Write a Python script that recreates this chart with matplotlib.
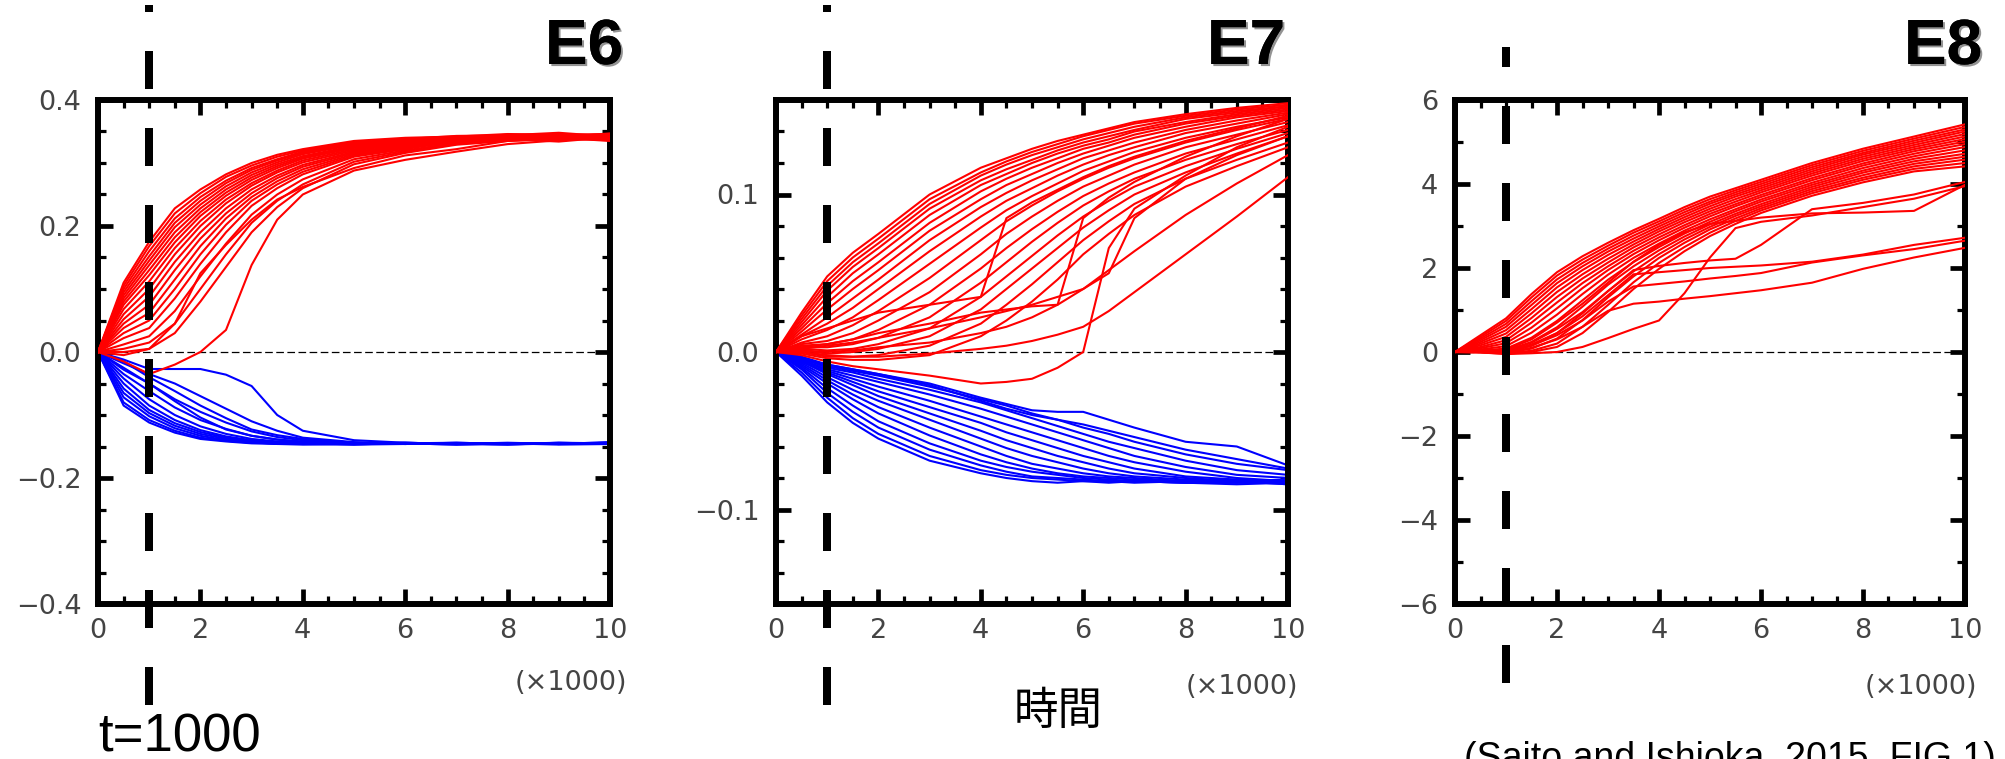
import matplotlib
matplotlib.use('Agg')
import matplotlib.pyplot as plt
from matplotlib.ticker import MultipleLocator
from matplotlib.transforms import blended_transform_factory
import matplotlib.patheffects as pe

plt.rcParams['lines.scale_dashes'] = False

# ---------------- data (x in units of 1000 steps) ----------------
panel_titles = ['E6', 'E7', 'E8']
x_ticks = [0, 2, 4, 6, 8, 10]
x_ticklabels = ['0', '2', '4', '6', '8', '10']
t_mark = 1.0  # t = 1000

# E6
e6_x = [0, 0.5, 1, 1.5, 2, 2.5, 3, 3.5, 4, 5, 6, 7, 8, 9, 10]
e6_red = [
    [0, .110, .175, .228, .258, .282, .300, .313, .322, .335, .340, .342, .346, .345, .346],
    [0, .105, .168, .220, .252, .278, .296, .310, .320, .333, .338, .343, .344, .348, .342],
    [0, .100, .160, .212, .246, .272, .292, .306, .318, .331, .337, .340, .345, .343, .344],
    [0, .095, .152, .205, .240, .268, .289, .304, .316, .330, .336, .342, .341, .346, .340],
    [0, .090, .145, .198, .234, .263, .285, .301, .314, .329, .335, .339, .343, .341, .347],
    [0, .085, .138, .190, .228, .258, .281, .298, .311, .327, .334, .341, .340, .345, .338],
    [0, .080, .130, .182, .222, .253, .277, .295, .309, .326, .333, .338, .344, .340, .343],
    [0, .075, .122, .174, .216, .248, .273, .292, .307, .324, .332, .340, .339, .344, .341],
    [0, .068, .112, .165, .208, .242, .268, .288, .304, .322, .331, .337, .342, .339, .345],
    [0, .060, .100, .155, .200, .236, .264, .285, .301, .320, .330, .336, .338, .343, .336],
    [0, .052, .088, .143, .190, .228, .258, .280, .297, .318, .328, .338, .341, .338, .342],
    [0, .045, .075, .130, .180, .220, .252, .276, .294, .316, .327, .334, .337, .342, .339],
    [0, .038, .062, .115, .168, .212, .246, .271, .290, .314, .325, .336, .340, .337, .344],
    [0, .030, .050, .100, .155, .202, .240, .266, .286, .312, .324, .333, .336, .341, .337],
    [0, .022, .038, .085, .140, .190, .232, .260, .282, .310, .322, .335, .339, .336, .343],
    [0, .012, .025, .065, .120, .172, .218, .250, .274, .306, .320, .332, .337, .340, .335],
    [0, .005, .015, .045, .100, .155, .205, .240, .266, .302, .318, .330, .338, .334, .341],
    [0, .000, .005, .030, .080, .135, .190, .230, .260, .298, .316, .329, .335, .339, .336],
    [0, -.005, .005, .045, .125, .170, .210, .242, .262, .292, .312, .322, .335, .338, .340],
    [0, -.015, -.035, -.020, .000, .035, .138, .210, .250, .288, .305, .318, .330, .336, .340],
]
e6_blue = [
    [0, -.085, -.112, -.128, -.138, -.142, -.145, -.146, -.147, -.146, -.145, -.147, -.145, -.146, -.144],
    [0, -.080, -.108, -.125, -.136, -.141, -.144, -.145, -.146, -.147, -.144, -.146, -.146, -.145, -.145],
    [0, -.072, -.102, -.121, -.133, -.140, -.143, -.146, -.145, -.145, -.146, -.145, -.147, -.144, -.146],
    [0, -.065, -.097, -.117, -.130, -.138, -.142, -.144, -.146, -.146, -.145, -.146, -.144, -.146, -.143],
    [0, -.058, -.092, -.113, -.127, -.136, -.141, -.145, -.144, -.147, -.146, -.144, -.146, -.145, -.145],
    [0, -.050, -.085, -.108, -.124, -.134, -.140, -.143, -.145, -.145, -.146, -.145, -.145, -.147, -.146],
    [0, -.042, -.075, -.100, -.118, -.130, -.138, -.142, -.144, -.146, -.145, -.147, -.145, -.146, -.144],
    [0, -.035, -.062, -.088, -.108, -.122, -.133, -.139, -.143, -.145, -.146, -.145, -.146, -.144, -.145],
    [0, -.028, -.050, -.075, -.095, -.112, -.126, -.135, -.140, -.145, -.144, -.146, -.145, -.146, -.146],
    [0, -.025, -.050, -.078, -.104, -.123, -.133, -.139, -.142, -.145, -.145, -.146, -.147, -.145, -.144],
    [0, -.018, -.035, -.050, -.070, -.090, -.110, -.125, -.136, -.143, -.146, -.145, -.145, -.146, -.145],
    [0, -.012, -.027, -.027, -.027, -.036, -.054, -.100, -.125, -.140, -.144, -.146, -.145, -.145, -.146],
    [0, -.015, -.040, -.062, -.085, -.105, -.123, -.132, -.138, -.144, -.145, -.144, -.146, -.145, -.145],
]

# E7
e7_x = [0, 0.5, 1, 1.5, 2, 3, 4, 4.5, 5, 5.5, 6, 6.5, 7, 8, 9, 10]
e7_red = [
    [0, .025, .048, .063, .075, .100, .117, .123, .129, .134, .138, .142, .146, .151, .155, .158],
    [0, .023, .045, .060, .072, .097, .114, .121, .127, .132, .137, .141, .145, .150, .154, .157],
    [0, .021, .042, .057, .069, .094, .112, .119, .125, .130, .135, .139, .143, .149, .153, .156],
    [0, .019, .039, .054, .066, .091, .109, .116, .122, .128, .133, .137, .141, .148, .152, .156],
    [0, .017, .035, .050, .062, .087, .106, .113, .120, .126, .131, .135, .140, .146, .151, .155],
    [0, .015, .031, .045, .057, .082, .102, .110, .117, .123, .129, .133, .138, .145, .150, .154],
    [0, .013, .027, .040, .052, .077, .097, .106, .113, .120, .126, .131, .136, .143, .149, .153],
    [0, .011, .022, .034, .046, .071, .092, .101, .109, .116, .123, .128, .133, .141, .147, .152],
    [0, .010, .018, .028, .040, .064, .086, .096, .104, .112, .119, .125, .130, .139, .145, .151],
    [0, .008, .014, .022, .033, .056, .079, .090, .099, .107, .115, .121, .127, .136, .143, .149],
    [0, .006, .010, .017, .026, .047, .071, .083, .093, .102, .110, .117, .123, .133, .141, .148],
    [0, .005, .007, .012, .020, .038, .062, .075, .086, .096, .105, .112, .119, .130, .138, .146],
    [0, .004, .005, .008, .014, .030, .053, .066, .078, .089, .099, .107, .114, .126, .135, .144],
    [0, .003, .003, .005, .009, .022, .044, .057, .070, .082, .093, .102, .110, .122, .132, .141],
    [0, .002, .001, .002, .005, .015, .035, .048, .061, .074, .086, .096, .105, .118, .129, .139],
    [0, .001, -.001, .000, .002, .010, .027, .040, .053, .066, .079, .090, .100, .114, .126, .137],
    [0, .000, -.003, -.003, -.002, .004, .018, .030, .043, .057, .071, .083, .094, .110, .122, .133],
    [0, -.001, -.004, -.005, -.005, -.002, .010, .020, .032, .046, .062, .075, .087, .105, .118, .130],
    [0, .010, .015, .020, .025, .030, .035, .085, .095, .103, .111, .118, .124, .134, .142, .150],
    [0, -.002, -.006, -.009, -.011, -.015, -.020, -.019, -.017, -.010, .000, .066, .091, .112, .130, .143],
    [0, .000, -.002, -.003, -.003, -.001, .002, .004, .007, .011, .016, .026, .038, .062, .086, .111],
    [0, .001, .000, .001, .003, .006, .012, .016, .022, .030, .040, .052, .064, .087, .107, .125],
    [0, .003, .005, .008, .012, .018, .025, .027, .029, .030, .085, .098, .108, .124, .137, .148],
    [0, .002, .004, .006, .009, .015, .022, .026, .030, .035, .040, .050, .085, .110, .125, .137],
]
e7_blue = [
    [0, -.015, -.032, -.045, -.055, -.069, -.077, -.080, -.082, -.083, -.082, -.083, -.082, -.083, -.082, -.083],
    [0, -.013, -.029, -.042, -.052, -.066, -.075, -.078, -.080, -.081, -.082, -.082, -.083, -.082, -.083, -.082],
    [0, -.011, -.026, -.038, -.048, -.062, -.072, -.076, -.079, -.080, -.081, -.082, -.082, -.083, -.084, -.083],
    [0, -.010, -.023, -.034, -.044, -.058, -.069, -.073, -.076, -.078, -.080, -.081, -.082, -.083, -.082, -.084],
    [0, -.009, -.020, -.030, -.039, -.053, -.065, -.070, -.074, -.077, -.079, -.080, -.081, -.082, -.083, -.082],
    [0, -.008, -.018, -.027, -.035, -.048, -.060, -.066, -.071, -.074, -.077, -.079, -.080, -.082, -.081, -.083],
    [0, -.007, -.016, -.024, -.031, -.043, -.055, -.061, -.066, -.070, -.074, -.077, -.079, -.081, -.082, -.081],
    [0, -.006, -.014, -.021, -.028, -.039, -.050, -.056, -.061, -.066, -.070, -.074, -.077, -.080, -.082, -.084],
    [0, -.006, -.013, -.019, -.025, -.035, -.045, -.051, -.056, -.061, -.066, -.070, -.074, -.079, -.081, -.083],
    [0, -.005, -.012, -.017, -.022, -.031, -.041, -.046, -.051, -.056, -.061, -.066, -.070, -.076, -.080, -.082],
    [0, -.005, -.011, -.015, -.019, -.027, -.036, -.041, -.046, -.051, -.056, -.061, -.066, -.073, -.078, -.080],
    [0, -.004, -.010, -.013, -.017, -.024, -.032, -.037, -.042, -.047, -.052, -.057, -.061, -.069, -.075, -.078],
    [0, -.004, -.009, -.012, -.015, -.022, -.030, -.034, -.039, -.043, -.048, -.052, -.057, -.065, -.071, -.075],
    [0, -.004, -.008, -.011, -.014, -.020, -.029, -.033, -.037, -.038, -.038, -.043, -.048, -.057, -.060, -.072],
    [0, -.003, -.008, -.011, -.014, -.021, -.031, -.036, -.040, -.043, -.046, -.050, -.054, -.062, -.068, -.074],
]

# E8
e8_x = [0, 0.5, 1, 1.5, 2, 2.5, 3, 3.5, 4, 4.5, 5, 5.5, 6, 7, 8, 9, 10]
e8_red = [
    [0, .40, .80, 1.38, 1.90, 2.28, 2.60, 2.90, 3.17, 3.45, 3.70, 3.90, 4.10, 4.50, 4.84, 5.13, 5.42],
    [0, .36, .74, 1.30, 1.82, 2.20, 2.53, 2.84, 3.11, 3.39, 3.64, 3.85, 4.05, 4.45, 4.79, 5.08, 5.36],
    [0, .32, .67, 1.21, 1.73, 2.12, 2.46, 2.77, 3.05, 3.33, 3.58, 3.80, 4.00, 4.40, 4.74, 5.03, 5.30],
    [0, .28, .60, 1.12, 1.64, 2.04, 2.39, 2.70, 2.99, 3.27, 3.53, 3.75, 3.95, 4.35, 4.70, 4.98, 5.25],
    [0, .24, .52, 1.02, 1.54, 1.95, 2.31, 2.63, 2.93, 3.21, 3.47, 3.70, 3.90, 4.30, 4.65, 4.93, 5.19],
    [0, .20, .44, .92, 1.43, 1.85, 2.22, 2.56, 2.87, 3.15, 3.41, 3.64, 3.85, 4.25, 4.60, 4.88, 5.13],
    [0, .16, .36, .81, 1.31, 1.75, 2.13, 2.49, 2.80, 3.09, 3.35, 3.58, 3.80, 4.20, 4.55, 4.83, 5.07],
    [0, .12, .28, .70, 1.18, 1.64, 2.04, 2.41, 2.73, 3.02, 3.29, 3.52, 3.74, 4.14, 4.49, 4.78, 5.01],
    [0, .09, .21, .58, 1.04, 1.52, 1.95, 2.33, 2.66, 2.96, 3.23, 3.47, 3.69, 4.09, 4.44, 4.72, 4.95],
    [0, .06, .14, .46, .89, 1.38, 1.84, 2.24, 2.58, 2.89, 3.16, 3.40, 3.63, 4.03, 4.38, 4.66, 4.88],
    [0, .04, .08, .34, .74, 1.23, 1.72, 2.14, 2.50, 2.82, 3.10, 3.35, 3.58, 3.98, 4.32, 4.60, 4.80],
    [0, .02, .03, .24, .59, 1.08, 1.60, 2.04, 2.42, 2.75, 3.04, 3.29, 3.52, 3.93, 4.27, 4.54, 4.72],
    [0, .01, .00, .15, .45, .92, 1.45, 1.92, 2.33, 2.68, 2.98, 3.24, 3.47, 3.88, 4.21, 4.48, 4.65],
    [0, .00, -.02, .08, .32, .76, 1.30, 1.80, 2.24, 2.60, 2.92, 3.18, 3.42, 3.83, 4.15, 4.42, 4.58],
    [0, .00, -.03, .03, .20, .60, 1.12, 1.66, 2.12, 2.50, 2.84, 3.12, 3.37, 3.78, 4.10, 4.36, 4.50],
    [0, -.01, -.04, .00, .12, .45, .95, 1.50, 1.98, 2.40, 2.76, 3.05, 3.31, 3.72, 4.04, 4.30, 4.42],
    [0, -.01, -.05, -.03, .00, .12, .33, .55, .75, 1.40, 2.25, 2.95, 3.10, 3.25, 3.45, 3.65, 3.95],
    [0, .00, -.02, .10, .30, .60, .98, 1.15, 1.20, 1.27, 1.33, 1.40, 1.47, 1.65, 1.98, 2.25, 2.48],
    [0, .00, -.01, .15, .40, .75, 1.20, 1.56, 1.62, 1.68, 1.75, 1.81, 1.88, 2.13, 2.30, 2.45, 2.65],
    [0, .01, .00, .18, .45, .85, 1.35, 1.85, 1.90, 1.95, 2.00, 2.03, 2.06, 2.15, 2.32, 2.55, 2.72],
    [0, .01, .02, .22, .55, .95, 1.45, 1.95, 2.05, 2.12, 2.18, 2.22, 2.55, 3.40, 3.55, 3.75, 4.05],
    [0, .02, .05, .30, .70, 1.15, 1.65, 2.15, 2.55, 2.85, 3.05, 3.12, 3.20, 3.30, 3.32, 3.36, 3.98],
]
e8_blue = []

e6_yticks = [-0.4, -0.2, 0.0, 0.2, 0.4]
e6_ylabels = ['\u22120.4', '\u22120.2', '0.0', '0.2', '0.4']
e7_yticks = [-0.1, 0.0, 0.1]
e7_ylabels = ['\u22120.1', '0.0', '0.1']
e8_yticks = [-6, -4, -2, 0, 2, 4, 6]
e8_ylabels = ['\u22126', '\u22124', '\u22122', '0', '2', '4', '6']

# ---------------- figure ----------------
W, H = 2005, 759
fig = plt.figure(figsize=(W / 100, H / 100), dpi=100)

def fx(px):
    return px / W

def fy(py):
    return (H - py) / H

panels = [
    dict(x=e6_x, red=e6_red, blue=e6_blue, ylim=(-0.4, 0.4), yticks=e6_yticks, ylabels=e6_ylabels,
         yminor=0.05, left=98, right=610, title_right=623, unit_right=627, unit_y=683,
         dash_top=5, dash_bot=705, dash_off=31),
    dict(x=e7_x, red=e7_red, blue=e7_blue, ylim=(-0.16, 0.16), yticks=e7_yticks, ylabels=e7_ylabels,
         yminor=0.02, left=776, right=1288, title_right=1285, unit_right=1298, unit_y=687,
         dash_top=5, dash_bot=705, dash_off=31),
    dict(x=e8_x, red=e8_red, blue=e8_blue, ylim=(-6, 6), yticks=e8_yticks, ylabels=e8_ylabels,
         yminor=1, left=1455, right=1965, title_right=1982, unit_right=1977, unit_y=687,
         dash_top=47, dash_bot=683, dash_off=18),
]

ax_top, ax_bot = 100, 604
px2pt = 0.72

for title, p in zip(panel_titles, panels):
    ax = fig.add_axes([fx(p['left']), fy(ax_bot), (p['right'] - p['left']) / W, (ax_bot - ax_top) / H])
    for ys in p['blue']:
        ax.plot(p['x'], ys, color='#0000ff', lw=1.5, zorder=2)
    for ys in p['red']:
        ax.plot(p['x'], ys, color='#ff0000', lw=1.5, zorder=3)
    ax.axhline(0, color='black', lw=0.9, linestyle=(0, (5.5, 2.5)), zorder=1.5)
    ax.set_xlim(0, 10)
    ax.set_ylim(*p['ylim'])
    ax.set_xticks(x_ticks)
    ax.set_xticklabels(x_ticklabels)
    ax.set_yticks(p['yticks'])
    ax.set_yticklabels(p['ylabels'])
    ax.xaxis.set_minor_locator(MultipleLocator(0.5))
    ax.yaxis.set_minor_locator(MultipleLocator(p['yminor']))
    ax.tick_params(which='both', direction='in', top=True, right=True,
                   labelsize=19.5, labelcolor='#444444', color='black')
    ax.tick_params(which='major', length=10.5, width=3.4)
    ax.tick_params(which='minor', length=6, width=2.3)
    ax.tick_params(axis='y', which='major', pad=12)
    ax.tick_params(axis='x', which='major', pad=10)
    for s in ax.spines.values():
        s.set_linewidth(4.3)
    # thick dashed vertical marker at t = 1000
    trans = blended_transform_factory(ax.transData, fig.transFigure)
    ax.plot([t_mark, t_mark], [fy(p['dash_top']), fy(p['dash_bot'])], transform=trans,
            clip_on=False, color='black', lw=8 * px2pt, solid_capstyle='butt',
            linestyle=(p['dash_off'] * px2pt, (38 * px2pt, 39 * px2pt)), zorder=5)
    # panel title
    fig.text(fx(p['title_right']), fy(64), title, ha='right', va='baseline',
             fontsize=46, fontweight='bold', family='Liberation Sans', color='black',
             path_effects=[pe.withSimplePatchShadow(offset=(1.5, -1.5), shadow_rgbFace='#666666', alpha=0.7),
                           pe.Normal()])
    fig.text(fx(p['unit_right']), fy(p['unit_y']), '(\u00d71000)', ha='right', va='center',
             fontsize=19.5, color='#444444', family='DejaVu Sans')

fig.text(fx(98), fy(752), 't=1000', ha='left', va='baseline', fontsize=38,
         family='Liberation Sans', color='black')
fig.text(fx(1058), fy(711), '時間', ha='center', va='center', fontsize=32,
         family=['Noto Sans CJK JP', 'DejaVu Sans'], color='black')
fig.text(fx(1464), fy(769), '(Saito and Ishioka, 2015, FIG.1)', ha='left', va='baseline',
         fontsize=27, family='Liberation Sans', color='black')

fig.savefig('out.png', dpi=100)
